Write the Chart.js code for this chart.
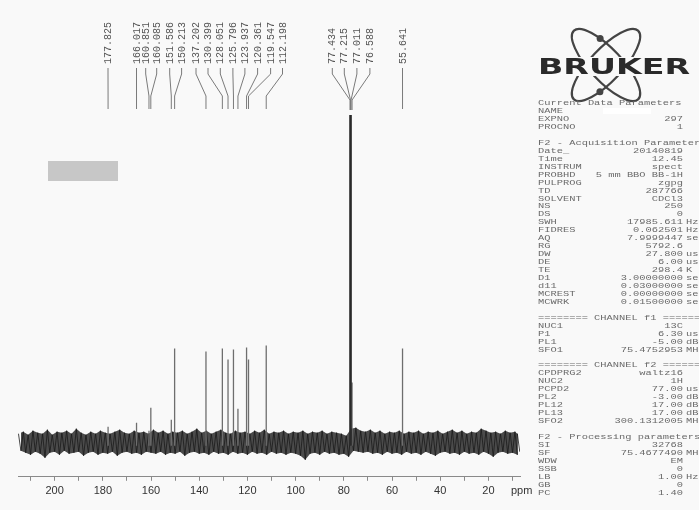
<!DOCTYPE html>
<html>
<head>
<meta charset="utf-8">
<script src="https://cdn.jsdelivr.net/npm/chart.js@4"></script>
<style>
  html, body { margin: 0; padding: 0; background: #f9f9f9; }
  canvas { display: block; }
</style>
</head>
<body>
<canvas id="nmr" width="699" height="510"></canvas>
<script>
// 13C spectrum, peak list (ppm) and heights
const peakPpm = [177.825, 166.017, 160.851, 160.085, 151.586, 150.213, 137.202, 130.399, 128.051,
  125.796, 123.937, 120.361, 119.547, 112.198, 77.434, 77.215, 77.011, 76.588, 55.641]
const peakHeight = [16, 20, 12, 35, 23, 94, 91, 94, 83,
  93, 34, 95, 83, 97, 400, 400, 400, 60, 94]

const tickValues = [200, 180, 160, 140, 120, 100, 80, 60, 40, 20]

// baseline noise envelope (upper / lower), sampled every 2 ppm
const noisePpm = [215, 213, 211, 209, 207, 205, 203, 201, 199, 197,
  195, 193, 191, 189, 187, 185, 183, 181, 179, 177,
  175, 173, 171, 169, 167, 165, 163, 161, 159, 157,
  155, 153, 151, 149, 147, 145, 143, 141, 139, 137,
  135, 133, 131, 129, 127, 125, 123, 121, 119, 117,
  115, 113, 111, 109, 107, 105, 103, 101, 99, 97,
  95, 93, 91, 89, 87, 85, 83, 81, 79, 77,
  75, 73, 71, 69, 67, 65, 63, 61, 59, 57,
  55, 53, 51, 49, 47, 45, 43, 41, 39, 37,
  35, 33, 31, 29, 27, 25, 23, 21, 19, 17,
  15, 13, 11, 9, 8]
const noiseUpper = [9, 11, 8, 12, 10, 9, 13, 8, 11, 10,
  12, 9, 14, 10, 8, 11, 9, 12, 10, 9,
  11, 13, 10, 9, 12, 10, 11, 9, 13, 10,
  12, 9, 11, 10, 12, 9, 11, 14, 10, 12,
  9, 11, 13, 10, 9, 12, 10, 11, 9, 12,
  10, 13, 9, 11, 10, 12, 9, 11, 10, 12,
  9, 11, 10, 12, 9, 11, 10, 9, 7, 14,
  15, 12, 11, 13, 10, 12, 9, 11, 10, 12,
  9, 11, 10, 12, 9, 11, 10, 12, 9, 11,
  13, 10, 12, 9, 11, 10, 14, 12, 10, 11,
  9, 12, 10, 11, 9]
const noiseLower = [-8, -10, -12, -9, -11, -15, -10, -9, -12, -8,
  -11, -10, -9, -13, -10, -9, -12, -10, -11, -9,
  -13, -10, -9, -11, -10, -12, -9, -10, -11, -9,
  -12, -10, -11, -9, -13, -10, -9, -11, -10, -12,
  -9, -11, -10, -12, -9, -11, -10, -12, -9, -11,
  -10, -12, -9, -11, -10, -12, -10, -11, -13, -17,
  -11, -10, -12, -9, -11, -10, -12, -11, -14, -8,
  -9, -10, -9, -11, -10, -12, -9, -11, -10, -12,
  -9, -11, -10, -12, -9, -11, -13, -10, -9, -11,
  -10, -12, -9, -11, -10, -12, -9, -11, -14, -10,
  -9, -11, -10, -12, -9]

// acquisition / processing parameter listing
const paramRows = [
  ['Current Data Parameters'],
  ['NAME', '', ''],
  ['EXPNO', '297', ''],
  ['PROCNO', '1', ''],
  null,
  ['F2 - Acquisition Parameters'],
  ['Date_', '20140819', ''],
  ['Time', '12.45', ''],
  ['INSTRUM', 'spect', ''],
  ['PROBHD', '5 mm BBO BB-1H', ''],
  ['PULPROG', 'zgpg', ''],
  ['TD', '287766', ''],
  ['SOLVENT', 'CDCl3', ''],
  ['NS', '250', ''],
  ['DS', '0', ''],
  ['SWH', '17985.611', 'Hz'],
  ['FIDRES', '0.062501', 'Hz'],
  ['AQ', '7.9999447', 'sec'],
  ['RG', '5792.6', ''],
  ['DW', '27.800', 'usec'],
  ['DE', '6.00', 'usec'],
  ['TE', '298.4', 'K'],
  ['D1', '3.00000000', 'sec'],
  ['d11', '0.03000000', 'sec'],
  ['MCREST', '0.00000000', 'sec'],
  ['MCWRK', '0.01500000', 'sec'],
  null,
  ['======== CHANNEL f1 ========'],
  ['NUC1', '13C', ''],
  ['P1', '6.30', 'usec'],
  ['PL1', '-5.00', 'dB'],
  ['SFO1', '75.4752953', 'MHz'],
  null,
  ['======== CHANNEL f2 ========'],
  ['CPDPRG2', 'waltz16', ''],
  ['NUC2', '1H', ''],
  ['PCPD2', '77.00', 'usec'],
  ['PL2', '-3.00', 'dB'],
  ['PL12', '17.00', 'dB'],
  ['PL13', '17.00', 'dB'],
  ['SFO2', '300.1312005', 'MHz'],
  null,
  ['F2 - Processing parameters'],
  ['SI', '32768', ''],
  ['SF', '75.4677490', 'MHz'],
  ['WDW', 'EM', ''],
  ['SSB', '0', ''],
  ['LB', '1.00', 'Hz'],
  ['GB', '0', ''],
  ['PC', '1.40', '']
]

// build chart points
const noisePoints = []
noisePpm.forEach((p, i) => {
  noisePoints.push({ x: p, y: noiseUpper[i] })
  noisePoints.push({ x: p - 1, y: noiseLower[i] })
})
const noiseTop = noisePpm.map((p, i) => ({ x: p, y: noiseUpper[i] }))
const noiseBottom = noisePpm.map((p, i) => ({ x: p - 1, y: noiseLower[i] }))

const peakPoints = []
const solventPoints = []
peakPpm.forEach((p, i) => {
  const target = peakHeight[i] > 200 ? solventPoints : peakPoints
  target.push({ x: p, y: -3 }, { x: p, y: peakHeight[i] }, { x: p, y: null })
})

// label x positions above the spectrum (layout only)
const labelX = [108, 136.5, 145.7, 156.7, 169.7, 181.6, 196, 208, 220.3,
  232.9, 244.9, 257.6, 270.6, 282.5, 332.3, 344.3, 356.9, 369.9, 402.5]

const decorPlugin = {
  id: 'decor',
  afterDraw(chart) {
    const ctx = chart.ctx
    const xs = chart.scales.x
    ctx.save()

    // peak labels + leader lines
    ctx.strokeStyle = '#7a7a7a'
    ctx.lineWidth = 1
    ctx.fillStyle = '#555'
    ctx.font = '10px "Liberation Mono"'
    peakPpm.forEach((p, i) => {
      const lx = labelX[i]
      const px = xs.getPixelForValue(p)
      const solvent = p > 76 && p < 78
      ctx.beginPath()
      ctx.moveTo(lx, 68)
      ctx.lineTo(lx, 74)
      ctx.lineTo(px, solvent ? 100 : 96)
      ctx.lineTo(px, solvent ? 110 : 109)
      ctx.stroke()
      ctx.save()
      ctx.translate(lx + 0.5, 64)
      ctx.rotate(-Math.PI / 2)
      ctx.textBaseline = 'middle'
      ctx.textAlign = 'left'
      ctx.fillText(p.toFixed(3), 0, 0)
      ctx.restore()
    })

    // ppm unit label
    ctx.fillStyle = '#333'
    ctx.font = '11px "Liberation Sans"'
    ctx.textAlign = 'left'
    ctx.textBaseline = 'middle'
    ctx.fillText('ppm', 511, 491)

    // redacted sample name patch
    ctx.fillStyle = '#c7c7c7'
    ctx.fillRect(48, 161, 70, 20)

    // Bruker logo
    const cx = 606, cy = 65, ra = 47, rb = 16
    ctx.strokeStyle = '#444'
    ctx.lineWidth = 2.2
    const rots = [0.82, -0.82]
    rots.forEach(r => {
      ctx.beginPath()
      ctx.ellipse(cx, cy, ra, rb, r, 0, Math.PI * 2)
      ctx.stroke()
    })
    ctx.fillStyle = '#444'
    ;[[rots[0], -1], [rots[1], 1]].forEach(([r, dir]) => {
      let best = null
      for (let t = 0; t < Math.PI * 2; t += 0.01) {
        const x = ra * Math.cos(t) * Math.cos(r) - rb * Math.sin(t) * Math.sin(r)
        const y = ra * Math.cos(t) * Math.sin(r) + rb * Math.sin(t) * Math.cos(r)
        if (y * dir < 0) continue
        if (!best || Math.abs(x + 6) < Math.abs(best[0] + 6)) best = [x, y]
      }
      ctx.beginPath()
      ctx.arc(cx + best[0], cy + best[1], 3.5, 0, Math.PI * 2)
      ctx.fill()
    })
    ctx.fillStyle = '#f9f9f9'
    ctx.fillRect(536, 57, 158, 19)
    ctx.fillStyle = '#2a2a2a'
    ctx.font = 'bold 21px "DejaVu Sans"'
    ctx.textBaseline = 'alphabetic'
    const w = ctx.measureText('BRUKER').width
    ctx.save()
    ctx.translate(538, 74)
    ctx.scale(152 / w, 1)
    ctx.fillText('BRUKER', 0, 0)
    ctx.restore()

    // parameter listing
    ctx.font = '10.4px "Liberation Mono"'
    ctx.fillStyle = '#6a6a6a'
    ctx.textBaseline = 'middle'
    paramRows.forEach((row, k) => {
      if (!row) return
      const y = 103 + k * 7.95
      const put = (txt, x, align) => {
        ctx.save()
        ctx.translate(x, y)
        ctx.scale(1, 0.78)
        ctx.textAlign = align
        ctx.fillText(txt, 0, 0)
        ctx.restore()
      }
      put(row[0], 538, 'left')
      if (row.length > 1) {
        if (row[1]) put(row[1], 683, 'right')
        if (row[2]) put(row[2], 686, 'left')
      }
    })
    // redacted NAME value
    ctx.fillStyle = '#ffffff'
    ctx.fillRect(603, 108, 48, 6)

    ctx.restore()
  }
}

new Chart(document.getElementById('nmr'), {
  type: 'scatter',
  data: {
    datasets: [
      {
        label: 'peaks',
        data: peakPoints,
        showLine: true,
        borderColor: '#6e6e6e',
        borderWidth: 1.3,
        pointRadius: 0,
        order: 1
      },
      {
        label: 'solvent',
        data: solventPoints,
        showLine: true,
        borderColor: '#2a2a2a',
        borderWidth: 1.6,
        pointRadius: 0,
        order: 0
      },
      {
        label: 'noise',
        data: noisePoints,
        showLine: true,
        borderColor: '#1a1a1a',
        borderWidth: 0.8,
        pointRadius: 0,
        order: 2
      },
      {
        label: 'noiseTop',
        data: noiseTop,
        showLine: true,
        borderWidth: 0,
        borderColor: 'rgba(0,0,0,0)',
        pointRadius: 0,
        order: 3
      },
      {
        label: 'noiseBottom',
        data: noiseBottom,
        showLine: true,
        borderWidth: 0,
        borderColor: 'rgba(0,0,0,0)',
        backgroundColor: 'rgba(25,25,25,0.78)',
        fill: '-1',
        pointRadius: 0,
        order: 3
      }
    ]
  },
  options: {
    responsive: false,
    animation: false,
    devicePixelRatio: 1,
    layout: { padding: { left: 18, right: 179, top: 115, bottom: 8 } },
    plugins: { legend: { display: false }, tooltip: { enabled: false }, filler: { propagate: false } },
    scales: {
      x: {
        type: 'linear',
        reverse: true,
        min: 6.9,
        max: 215.2,
        border: { display: true, color: '#8a8a8a', width: 1 },
        grid: { drawOnChartArea: false, drawTicks: true, tickLength: 4, color: '#8a8a8a' },
        ticks: {
          stepSize: 10,
          includeBounds: false,
          autoSkip: false,
          maxRotation: 0,
          padding: 4,
          color: '#333',
          font: { family: 'Liberation Sans', size: 11 },
          callback: v => tickValues.includes(v) ? String(v) : ''
        }
      },
      y: { display: false, min: -34, max: 327 }
    }
  },
  plugins: [decorPlugin]
})
</script>
</body>
</html>
